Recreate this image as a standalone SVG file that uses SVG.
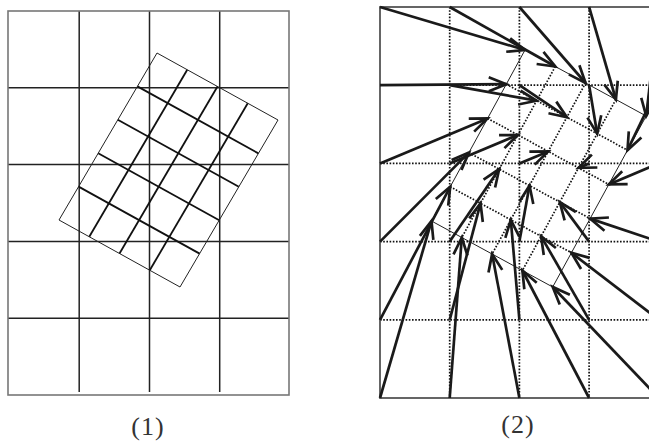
<svg xmlns="http://www.w3.org/2000/svg" width="649" height="441" viewBox="0 0 649 441">
<style>
.bd{fill:none;stroke:#777;stroke-width:1.6}
.g1{stroke:#222;stroke-width:1.5}
.rb{fill:none;stroke:#222;stroke-width:1}
.ri{stroke:#111;stroke-width:1.8}
.dt{stroke:#111;stroke-width:1.7;stroke-dasharray:1.6 1.6;fill:none}
.ar{stroke:#1a1a1a;stroke-width:2.7;fill:none;marker-end:url(#ah)}
.lb{font-family:"Liberation Serif","DejaVu Serif",serif;font-size:26px;fill:#333;text-anchor:middle}
</style>
<defs>
<marker id="ah" markerUnits="userSpaceOnUse" markerWidth="40" markerHeight="40" refX="0" refY="0" orient="auto" overflow="visible">
<path d="M-17.5,-7 L0,0 L-17.5,7" fill="none" stroke="#1a1a1a" stroke-width="2.7" stroke-linejoin="miter"/>
</marker>
</defs>
<rect width="649" height="441" fill="#fff"/>

<g id="panel1-grid">
<line class="g1" x1="79.2" y1="11" x2="79.2" y2="392"/>
<line class="g1" x1="149.5" y1="11" x2="149.5" y2="392"/>
<line class="g1" x1="219.7" y1="11" x2="219.7" y2="392"/>
<line class="g1" x1="8" y1="87.8" x2="289" y2="87.8"/>
<line class="g1" x1="8" y1="164.6" x2="289" y2="164.6"/>
<line class="g1" x1="8" y1="241.4" x2="289" y2="241.4"/>
<line class="g1" x1="8" y1="318.2" x2="289" y2="318.2"/>
<rect class="bd" x="8" y="11" width="281" height="384"/>
</g>

<g id="panel1-rotated">
<line class="ri" x1="137.4" y1="86.4" x2="258.4" y2="153.4"/>
<line class="ri" x1="117.8" y1="119.8" x2="238.8" y2="186.8"/>
<line class="ri" x1="98.2" y1="153.2" x2="219.2" y2="220.2"/>
<line class="ri" x1="78.6" y1="186.6" x2="199.6" y2="253.6"/>
<line class="ri" x1="187.25" y1="69.75" x2="89.25" y2="236.75"/>
<line class="ri" x1="217.5" y1="86.5" x2="119.5" y2="253.5"/>
<line class="ri" x1="247.75" y1="103.25" x2="149.75" y2="270.25"/>
<polygon class="rb" points="157,53 278,120 180,287 59,220"/>
</g>

<g id="panel2-grid">
<line class="dt" x1="449.7" y1="7" x2="449.7" y2="398"/>
<line class="dt" x1="519.4" y1="7" x2="519.4" y2="398"/>
<line class="dt" x1="589.1" y1="7" x2="589.1" y2="398"/>
<line class="dt" x1="380" y1="85.2" x2="658.8" y2="85.2"/>
<line class="dt" x1="380" y1="163.4" x2="658.8" y2="163.4"/>
<line class="dt" x1="380" y1="241.6" x2="658.8" y2="241.6"/>
<line class="dt" x1="380" y1="319.8" x2="658.8" y2="319.8"/>
<rect class="bd" x="380" y="7" width="278.8" height="391" style="stroke:#555;stroke-width:1.8"/>
</g>

<g id="panel2-rotated">
<line class="dt" x1="506.3" y1="84.2" x2="627.5" y2="150.2"/>
<line class="dt" x1="487.6" y1="118.4" x2="608.8" y2="184.4"/>
<line class="dt" x1="468.9" y1="152.6" x2="590.1" y2="218.6"/>
<line class="dt" x1="450.2" y1="186.8" x2="571.4" y2="252.8"/>
<line class="dt" x1="555.3" y1="66.5" x2="461.8" y2="237.5"/>
<line class="dt" x1="585.6" y1="83" x2="492.1" y2="254"/>
<line class="dt" x1="615.9" y1="99.5" x2="522.4" y2="270.5"/>
<polygon class="rb" points="525,50 646.2,116 552.7,287 431.5,221"/>
</g>

<g id="connectors">
<line class="ar" x1="380" y1="7" x2="525" y2="50"/>
<line class="ar" x1="449.7" y1="7" x2="555.3" y2="66.5"/>
<line class="ar" x1="519.4" y1="7" x2="585.6" y2="83"/>
<line class="ar" x1="589.1" y1="7" x2="615.9" y2="99.5"/>
<line class="ar" x1="658.8" y1="7" x2="646.2" y2="116"/>

<line class="ar" x1="380" y1="85.2" x2="506.3" y2="84.2"/>
<line class="ar" x1="449.7" y1="85.2" x2="536.6" y2="100.7"/>
<line class="ar" x1="519.4" y1="85.2" x2="566.9" y2="117.2"/>
<line class="ar" x1="589.1" y1="85.2" x2="597.2" y2="133.7"/>
<line class="ar" x1="658.8" y1="85.2" x2="627.5" y2="150.2"/>

<line class="ar" x1="380" y1="163.4" x2="487.6" y2="118.4"/>
<line class="ar" x1="449.7" y1="163.4" x2="517.9" y2="134.9"/>
<line class="ar" x1="519.4" y1="163.4" x2="548.2" y2="151.4"/>
<line class="ar" x1="589.1" y1="163.4" x2="578.5" y2="167.9"/>
<line class="ar" x1="658.8" y1="163.4" x2="608.8" y2="184.4"/>

<line class="ar" x1="380" y1="241.6" x2="468.9" y2="152.6"/>
<line class="ar" x1="449.7" y1="241.6" x2="499.2" y2="169.1"/>
<line class="ar" x1="519.4" y1="241.6" x2="529.5" y2="185.6"/>
<line class="ar" x1="589.1" y1="241.6" x2="559.8" y2="202.1"/>
<line class="ar" x1="658.8" y1="241.6" x2="590.1" y2="218.6"/>

<line class="ar" x1="380" y1="319.8" x2="450.2" y2="186.8"/>
<line class="ar" x1="449.7" y1="319.8" x2="480.5" y2="203.3"/>
<line class="ar" x1="519.4" y1="319.8" x2="510.8" y2="219.8"/>
<line class="ar" x1="589.1" y1="319.8" x2="541.1" y2="236.3"/>
<line class="ar" x1="658.8" y1="319.8" x2="571.4" y2="252.8"/>

<line class="ar" x1="380" y1="398" x2="431.5" y2="221"/>
<line class="ar" x1="449.7" y1="398" x2="461.8" y2="237.5"/>
<line class="ar" x1="519.4" y1="398" x2="492.1" y2="254"/>
<line class="ar" x1="589.1" y1="398" x2="522.4" y2="270.5"/>
<line class="ar" x1="658.8" y1="398" x2="552.7" y2="287"/>
</g>

<text class="lb" x="148" y="435" letter-spacing="1">(1)</text>
<text class="lb" x="518" y="433" letter-spacing="1">(2)</text>
</svg>
